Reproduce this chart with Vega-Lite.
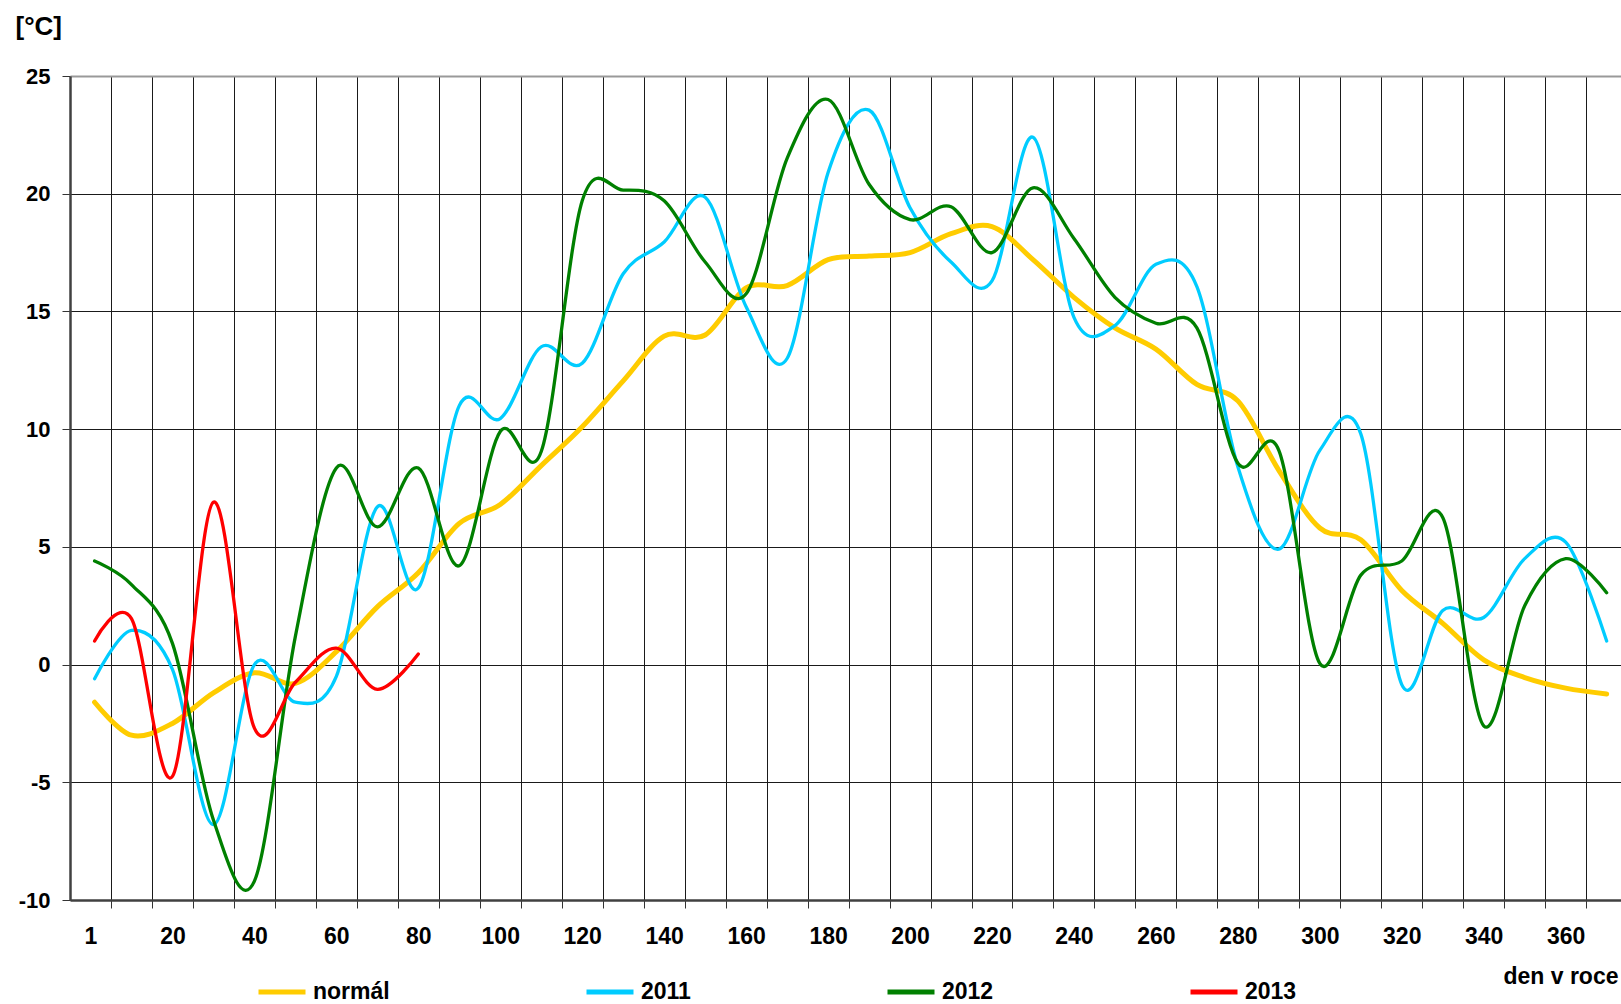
{
  "$schema": "https://vega.github.io/schema/vega-lite/v6.json",
  "width": 1551,
  "height": 824,
  "autosize": {"type": "none"},
  "padding": {"left": 70, "top": 76, "right": 0, "bottom": 104},
  "background": "white",
  "config": {"view": {"stroke": null}, "font": "Liberation Sans"},
  "datasets": {
    "teploty": [
      {"den": 1, "rada": "normál", "t": -1.6}, {"den": 10, "rada": "normál", "t": -3.0}, {"den": 20, "rada": "normál", "t": -2.5}, {"den": 30, "rada": "normál", "t": -1.2},
      {"den": 40, "rada": "normál", "t": -0.35}, {"den": 50, "rada": "normál", "t": -0.8}, {"den": 60, "rada": "normál", "t": 0.55}, {"den": 70, "rada": "normál", "t": 2.45},
      {"den": 80, "rada": "normál", "t": 3.9}, {"den": 90, "rada": "normál", "t": 6.0}, {"den": 100, "rada": "normál", "t": 6.8}, {"den": 110, "rada": "normál", "t": 8.45},
      {"den": 120, "rada": "normál", "t": 10.1}, {"den": 130, "rada": "normál", "t": 12.05}, {"den": 140, "rada": "normál", "t": 13.95}, {"den": 150, "rada": "normál", "t": 14.0},
      {"den": 160, "rada": "normál", "t": 16.0}, {"den": 170, "rada": "normál", "t": 16.1}, {"den": 180, "rada": "normál", "t": 17.2}, {"den": 190, "rada": "normál", "t": 17.35},
      {"den": 200, "rada": "normál", "t": 17.5}, {"den": 210, "rada": "normál", "t": 18.3}, {"den": 220, "rada": "normál", "t": 18.6}, {"den": 230, "rada": "normál", "t": 17.2},
      {"den": 240, "rada": "normál", "t": 15.6}, {"den": 250, "rada": "normál", "t": 14.3}, {"den": 260, "rada": "normál", "t": 13.4}, {"den": 270, "rada": "normál", "t": 11.9},
      {"den": 280, "rada": "normál", "t": 11.2}, {"den": 290, "rada": "normál", "t": 8.25}, {"den": 300, "rada": "normál", "t": 5.8}, {"den": 310, "rada": "normál", "t": 5.3},
      {"den": 320, "rada": "normál", "t": 3.15}, {"den": 330, "rada": "normál", "t": 1.75}, {"den": 340, "rada": "normál", "t": 0.2}, {"den": 350, "rada": "normál", "t": -0.55},
      {"den": 360, "rada": "normál", "t": -1.0}, {"den": 370, "rada": "normál", "t": -1.25},

      {"den": 1, "rada": "2011", "t": -0.6}, {"den": 10, "rada": "2011", "t": 1.45}, {"den": 20, "rada": "2011", "t": -0.2}, {"den": 30, "rada": "2011", "t": -6.8},
      {"den": 40, "rada": "2011", "t": 0.0}, {"den": 50, "rada": "2011", "t": -1.6}, {"den": 60, "rada": "2011", "t": -0.5}, {"den": 70, "rada": "2011", "t": 6.7},
      {"den": 80, "rada": "2011", "t": 3.25}, {"den": 90, "rada": "2011", "t": 11.0}, {"den": 100, "rada": "2011", "t": 10.45}, {"den": 110, "rada": "2011", "t": 13.5},
      {"den": 120, "rada": "2011", "t": 12.8}, {"den": 130, "rada": "2011", "t": 16.6}, {"den": 140, "rada": "2011", "t": 17.95}, {"den": 150, "rada": "2011", "t": 19.85},
      {"den": 160, "rada": "2011", "t": 15.2}, {"den": 170, "rada": "2011", "t": 13.0}, {"den": 180, "rada": "2011", "t": 20.9}, {"den": 190, "rada": "2011", "t": 23.55},
      {"den": 200, "rada": "2011", "t": 19.4}, {"den": 210, "rada": "2011", "t": 17.1}, {"den": 220, "rada": "2011", "t": 16.3}, {"den": 230, "rada": "2011", "t": 22.4},
      {"den": 240, "rada": "2011", "t": 14.75}, {"den": 250, "rada": "2011", "t": 14.4}, {"den": 260, "rada": "2011", "t": 17.0}, {"den": 270, "rada": "2011", "t": 16.05},
      {"den": 280, "rada": "2011", "t": 8.4}, {"den": 290, "rada": "2011", "t": 4.9}, {"den": 300, "rada": "2011", "t": 9.1}, {"den": 310, "rada": "2011", "t": 9.8},
      {"den": 320, "rada": "2011", "t": -0.85}, {"den": 330, "rada": "2011", "t": 2.3}, {"den": 340, "rada": "2011", "t": 2.0}, {"den": 350, "rada": "2011", "t": 4.5},
      {"den": 360, "rada": "2011", "t": 5.2}, {"den": 370, "rada": "2011", "t": 1.0},

      {"den": 1, "rada": "2012", "t": 4.4}, {"den": 10, "rada": "2012", "t": 3.4}, {"den": 20, "rada": "2012", "t": 0.9}, {"den": 30, "rada": "2012", "t": -6.6},
      {"den": 40, "rada": "2012", "t": -9.2}, {"den": 50, "rada": "2012", "t": 1.2}, {"den": 60, "rada": "2012", "t": 8.35}, {"den": 70, "rada": "2012", "t": 5.85},
      {"den": 80, "rada": "2012", "t": 8.35}, {"den": 90, "rada": "2012", "t": 4.2}, {"den": 100, "rada": "2012", "t": 9.9}, {"den": 110, "rada": "2012", "t": 9.05},
      {"den": 120, "rada": "2012", "t": 19.7}, {"den": 130, "rada": "2012", "t": 20.15}, {"den": 140, "rada": "2012", "t": 19.7}, {"den": 150, "rada": "2012", "t": 17.1},
      {"den": 160, "rada": "2012", "t": 15.75}, {"den": 170, "rada": "2012", "t": 21.5}, {"den": 180, "rada": "2012", "t": 24.0}, {"den": 190, "rada": "2012", "t": 20.4},
      {"den": 200, "rada": "2012", "t": 18.9}, {"den": 210, "rada": "2012", "t": 19.45}, {"den": 220, "rada": "2012", "t": 17.5}, {"den": 230, "rada": "2012", "t": 20.25},
      {"den": 240, "rada": "2012", "t": 18.1}, {"den": 250, "rada": "2012", "t": 15.6}, {"den": 260, "rada": "2012", "t": 14.5}, {"den": 270, "rada": "2012", "t": 14.3},
      {"den": 280, "rada": "2012", "t": 8.55}, {"den": 290, "rada": "2012", "t": 9.1}, {"den": 300, "rada": "2012", "t": 0.05}, {"den": 310, "rada": "2012", "t": 3.8},
      {"den": 320, "rada": "2012", "t": 4.4}, {"den": 330, "rada": "2012", "t": 6.25}, {"den": 340, "rada": "2012", "t": -2.6}, {"den": 350, "rada": "2012", "t": 2.5},
      {"den": 360, "rada": "2012", "t": 4.5}, {"den": 370, "rada": "2012", "t": 3.05},

      {"den": 1, "rada": "2013", "t": 1.0}, {"den": 10, "rada": "2013", "t": 1.95}, {"den": 20, "rada": "2013", "t": -4.75}, {"den": 30, "rada": "2013", "t": 6.9},
      {"den": 40, "rada": "2013", "t": -2.7}, {"den": 50, "rada": "2013", "t": -0.75}, {"den": 60, "rada": "2013", "t": 0.7}, {"den": 70, "rada": "2013", "t": -1.05},
      {"den": 80, "rada": "2013", "t": 0.45}
    ]
  },
  "data": {"name": "teploty"},
  "encoding": {
    "x": {
      "field": "den", "type": "quantitative",
      "scale": {"domain": [-5, 373.5], "nice": false, "zero": false},
      "axis": {
        "values": [0,5,10,15,20,25,30,35,40,45,50,55,60,65,70,75,80,85,90,95,100,105,110,115,120,125,130,135,140,145,150,155,160,165,170,175,180,185,190,195,200,205,210,215,220,225,230,235,240,245,250,255,260,265,270,275,280,285,290,295,300,305,310,315,320,325,330,335,340,345,350,355,360,365,370],
        "grid": true,
        "gridColor": "#1a1a1a",
        "gridWidth": 1,
        "gridOpacity": {"condition": {"test": "datum.value % 10 == 5", "value": 1}, "value": 0},
        "tickOpacity": {"condition": {"test": "datum.value % 10 == 5", "value": 1}, "value": 0},
        "tickSize": 8,
        "tickColor": "#333333",
        "tickWidth": 1,
        "domainColor": "#404040",
        "domainWidth": 2.5,
        "format": "d",
        "labelExpr": "datum.value == 0 ? '1' : (datum.value % 20 == 0 ? toString(datum.value) : '')",
        "labelFont": "Liberation Sans",
        "labelFontSize": 23,
        "labelFontWeight": "bold",
        "labelColor": "black",
        "labelPadding": 17,
        "labelOverlap": false,
        "labelFlush": false,
        "labelBound": false,
        "title": "den v roce",
        "titleFont": "Liberation Sans",
        "titleFontSize": 23,
        "titleFontWeight": "bold",
        "titleColor": "black",
        "titleAlign": "right",
        "titleAnchor": "end",
        "titleBaseline": "alphabetic",
        "titleX": 1548,
        "titleY": 83
      }
    },
    "y": {
      "field": "t", "type": "quantitative",
      "scale": {"domain": [-10, 25], "nice": false, "zero": false},
      "axis": {
        "values": [-10, -5, 0, 5, 10, 15, 20, 25],
        "grid": true,
        "gridColor": {"condition": {"test": "datum.value == 25", "value": "#999999"}, "value": "#1a1a1a"},
        "gridWidth": {"condition": {"test": "datum.value == 25", "value": 2}, "value": 1},
        "tickSize": 8,
        "tickColor": "#333333",
        "domainColor": "#404040",
        "domainWidth": 2.5,
        "labelExpr": "toString(datum.value)",
        "labelFont": "Liberation Sans",
        "labelFontSize": 22,
        "labelFontWeight": "bold",
        "labelColor": "black",
        "labelPadding": 12,
        "title": "[°C]",
        "titleFont": "Liberation Sans",
        "titleFontSize": 26,
        "titleFontWeight": "bold",
        "titleColor": "black",
        "titleAngle": 0,
        "titleAlign": "left",
        "titleBaseline": "alphabetic",
        "titleX": -55,
        "titleY": -42
      }
    },
    "color": {
      "field": "rada", "type": "nominal",
      "scale": {"domain": ["normál", "2011", "2012", "2013"], "range": ["#ffcc00", "#00ccff", "#008000", "#ff0000"]},
      "legend": {
        "orient": "none",
        "legendX": 186,
        "legendY": 890,
        "direction": "horizontal",
        "columns": 4,
        "gridAlign": "none",
        "columnPadding": 186,
        "padding": 0,
        "title": null,
        "symbolType": "stroke",
        "symbolSize": 2209,
        "symbolStrokeWidth": 5,
        "labelFont": "Liberation Sans",
        "labelFontSize": 23,
        "labelFontWeight": "bold",
        "labelColor": "black",
        "labelOffset": 5,
        "labelLimit": 300
      }
    }
  },
  "layer": [
    {"transform": [{"filter": "datum.rada == 'normál'"}], "mark": {"type": "line", "interpolate": "cardinal", "strokeWidth": 5, "strokeCap": "round", "strokeJoin": "round", "clip": true}},
    {"transform": [{"filter": "datum.rada == '2011'"}], "mark": {"type": "line", "interpolate": "cardinal", "strokeWidth": 3.3, "strokeCap": "round", "strokeJoin": "round", "clip": true}},
    {"transform": [{"filter": "datum.rada == '2012'"}], "mark": {"type": "line", "interpolate": "cardinal", "strokeWidth": 3.3, "strokeCap": "round", "strokeJoin": "round", "clip": true}},
    {"transform": [{"filter": "datum.rada == '2013'"}], "mark": {"type": "line", "interpolate": "cardinal", "strokeWidth": 3.3, "strokeCap": "round", "strokeJoin": "round", "clip": true}}
  ]
}
